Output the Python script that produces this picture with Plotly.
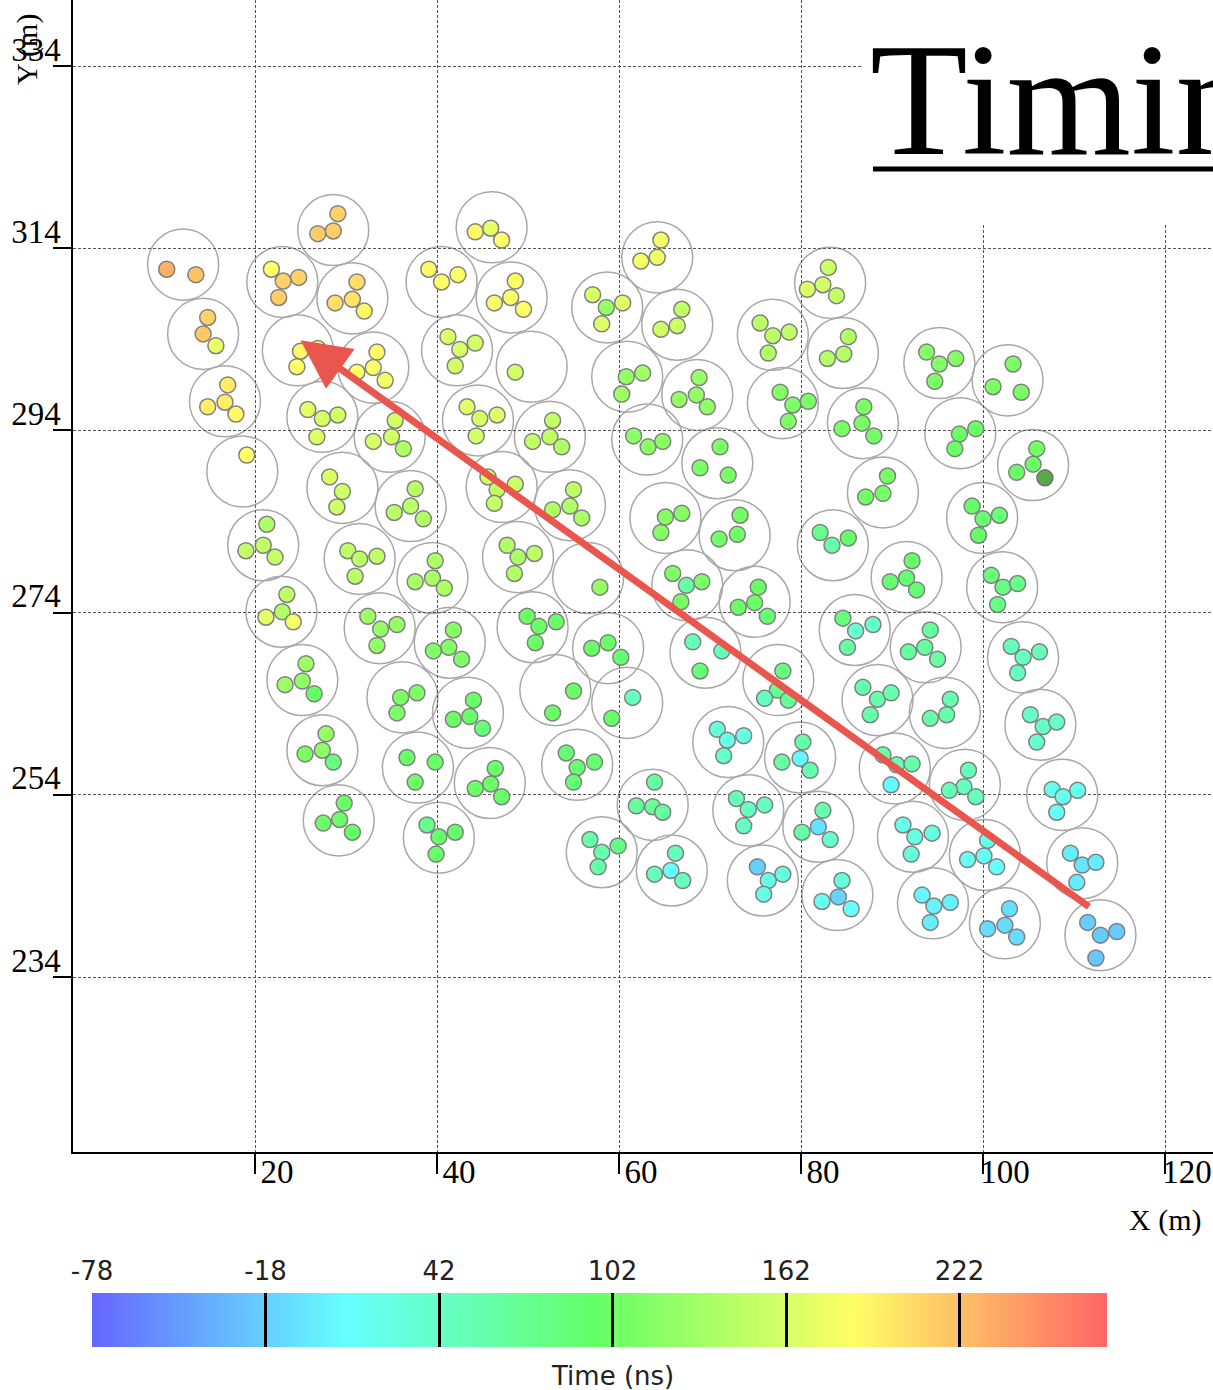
import plotly.graph_objects as go

W, H = 1213, 1390
OFF = 0  # page body margin is removed by the post_script below


def SX(px):
    return (px - OFF) / W


def SY(py):
    return 1 - (py - OFF) / H


# ---------------- data (metres / ns) ----------------
STATION_X = [12.1, 28.6, 23.0, 30.7, 40.5, 46.0, 64.2, 48.2, 58.7, 66.4,
             83.2, 76.9, 84.6, 95.2, 102.7, 14.3, 24.7, 33.0, 16.7, 42.2,
             50.4, 60.9, 68.6, 78.0, 86.8, 97.5, 105.5, 27.4, 34.8, 44.5,
             52.4, 63.1, 70.8, 18.6, 29.6, 37.1, 47.1, 54.6, 65.1, 72.7,
             89.0, 99.9, 83.5, 20.9, 31.5, 39.5, 48.9, 56.6, 67.5, 74.9,
             91.6, 102.1, 22.9, 33.7, 41.4, 50.5, 58.8, 69.5, 77.5, 85.9,
             93.7, 104.4, 25.2, 36.2, 43.4, 53.0, 60.9, 88.4, 95.8, 106.3,
             27.4, 37.9, 45.8, 55.4, 72.0, 79.9, 90.3, 98.0, 108.7, 29.2,
             40.2, 63.7, 74.2, 81.9, 92.3, 100.2, 110.9, 58.1, 65.8, 75.8,
             84.0, 94.5, 102.4, 112.9]
STATION_Y = [312.2, 316.0, 310.3, 308.5, 310.3, 316.3, 313.0, 308.6, 307.5, 305.6,
             310.2, 304.5, 302.5, 301.4, 299.5, 304.6, 302.8, 300.9, 297.2, 302.8,
             301.0, 299.9, 297.9, 297.0, 294.8, 293.7, 290.2, 295.5, 293.3, 295.1,
             293.3, 293.0, 290.4, 289.5, 287.7, 285.7, 287.8, 285.8, 284.4, 282.5,
             287.2, 284.4, 281.4, 281.4, 279.9, 277.8, 280.1, 277.8, 277.0, 275.2,
             277.9, 276.8, 274.1, 272.3, 270.7, 272.4, 270.1, 269.6, 266.6, 272.1,
             270.2, 269.1, 266.6, 264.7, 263.0, 265.5, 264.1, 264.4, 263.0, 261.7,
             258.9, 257.0, 255.3, 257.3, 259.8, 258.1, 256.9, 255.1, 254.0, 251.2,
             249.3, 252.9, 252.3, 250.5, 249.4, 247.4, 246.5, 247.7, 245.7, 244.6,
             243.0, 242.1, 239.9, 238.6]
STATION_RADIUS = 3.9

DOT_X = [10.3, 13.5,  29.1, 28.6, 26.9,  21.8, 23.1, 24.8, 22.6,  31.2, 30.7, 28.8, 32.0,
         39.1, 40.5, 42.3,  44.2, 45.9, 47.1,  64.6, 64.2, 62.4,  48.6, 48.1, 46.3, 49.5,
         57.1, 58.6, 60.4, 58.1,  66.9, 66.4, 64.6,  83.0, 82.4, 80.7, 83.9,
         75.5, 76.9, 78.7, 76.4,  85.2, 84.7, 82.9,  93.8, 95.2, 97.0, 94.7,
         103.3, 101.1, 104.2,  14.8, 14.3, 15.7,  25.0, 24.6, 26.9,  33.4, 33.0, 34.3, 31.2,
         17.0, 16.7, 14.8, 17.9,  41.2, 42.5, 44.2, 42.0,  48.6,  62.6, 60.8, 60.3,
         68.8, 68.5, 66.6, 69.7,  77.7, 79.1, 80.8, 78.6,  86.9, 86.7, 84.5, 88.0,
         99.2, 97.4, 96.9,  105.9, 105.5, 103.7,  25.8, 27.4, 29.1, 26.8,
         35.4, 35.0, 33.0, 36.3,  43.3, 44.7, 46.6, 44.3,  52.7, 52.4, 50.5, 53.7,
         61.6, 63.2, 64.8,  71.1, 68.9, 72.0,  19.1,  28.2, 29.6, 29.0,
         37.6, 37.1, 35.3, 38.5,  45.6, 46.6, 48.6, 46.3,  55.0, 54.6, 52.7, 55.9,
         65.1, 66.9, 64.6,  73.3, 73.0, 71.0,  89.5, 89.0, 87.1,  98.8, 100.0, 101.8, 99.5,
         82.1, 83.4, 85.2,  21.3, 20.9, 19.0, 22.2,  30.2, 31.5, 33.4, 31.0,
         39.8, 39.5, 37.6, 40.8,  47.7, 48.9, 50.7, 48.5,  57.9,  65.9, 67.4, 69.1, 66.8,
         75.3, 74.9, 73.1, 76.3,  92.2, 91.6, 89.8, 92.7,  100.9, 102.2, 103.8, 101.6,
         23.5, 23.0, 21.2, 24.2,  32.4, 33.8, 35.6, 33.4,  41.8, 41.3, 39.6, 42.7,
         49.9, 51.2, 53.1, 50.8,  57.0, 58.8, 60.2,  68.1, 71.3, 68.9,  78.0, 77.4, 76.0, 78.6,
         84.6, 86.0, 87.9, 85.1,  94.2, 93.6, 91.8, 95.0,  103.1, 104.4, 106.2, 103.8,
         25.6, 25.2, 23.3, 26.5,  36.0, 37.8, 35.6,  44.0, 43.6, 41.8, 45.0,  55.0, 52.7,
         61.5, 59.2,  86.8, 88.4, 89.9, 87.6,  96.4, 96.0, 94.2,  105.2, 106.6, 108.1, 105.9,
         27.8, 27.4, 25.5, 28.6,  36.7, 39.8, 37.6,  46.4, 45.9, 44.2, 47.1,
         54.2, 55.4, 57.3, 55.0,  70.8, 71.9, 73.7, 71.5,  80.2, 79.9, 77.9, 81.0,
         89.0, 90.5, 92.2, 89.9,  98.4, 97.9, 96.3, 99.2,  107.6, 108.8, 110.4, 108.1,
         29.8, 29.3, 27.5, 30.7,  38.9, 40.2, 42.0, 39.9,  63.9, 61.9, 63.7, 64.8,
         72.9, 74.2, 76.0, 73.7,  82.4, 81.9, 80.1, 83.2,  91.2, 92.5, 94.4, 92.1,
         100.5, 100.1, 98.3, 101.5,  109.6, 110.9, 112.4, 110.3,  56.8, 58.1, 59.9, 57.7,
         66.2, 65.7, 63.9, 67.0,  75.2, 76.4, 78.0, 75.9,  84.5, 84.1, 82.3, 85.5,
         93.3, 94.6, 96.4, 94.2,  102.9, 102.4, 100.5, 103.7,  111.5, 112.9, 114.7, 112.4]
DOT_Y = [311.7, 311.1,  317.8, 315.9, 315.6,  311.7, 310.4, 310.8, 308.6,  310.3, 308.4, 308.0, 307.1,
         311.7, 310.3, 311.1,  315.8, 316.2, 314.9,  314.9, 313.0, 312.6,  310.4, 308.6, 308.0, 307.3,
         308.9, 307.5, 308.0, 305.7,  307.3, 305.5, 305.1,  311.9, 310.0, 309.5, 308.8,
         305.8, 304.4, 304.8, 302.5,  304.3, 302.4, 301.9,  302.6, 301.3, 301.9, 299.4,
         301.3, 298.8, 298.2,  306.4, 304.6, 303.3,  302.7, 301.0, 303.0,  302.6, 300.9, 299.5, 300.4,
         299.0, 297.1, 296.6, 295.8,  304.3, 302.9, 303.6, 301.1,  300.4,  300.3, 299.9, 298.0,
         299.8, 297.9, 297.4, 296.6,  298.2, 296.8, 297.2, 295.0,  296.6, 294.8, 294.2, 293.4,
         294.2, 293.6, 292.0,  292.0, 290.3, 289.4,  296.3, 295.3, 295.7, 293.3,
         295.1, 293.3, 292.8, 292.0,  296.6, 295.3, 295.7, 293.4,  295.1, 293.3, 292.8, 292.2,
         293.4, 292.2, 292.8,  292.2, 289.9, 289.1,  291.3,  288.9, 287.3, 285.6,
         287.6, 285.7, 285.0, 284.3,  288.9, 287.5, 288.1, 286.0,  287.5, 285.7, 285.3, 284.4,
         284.5, 284.9, 282.8,  284.7, 282.6, 282.1,  289.0, 287.1, 286.7,  285.7, 284.3, 284.7, 282.5,
         282.8, 281.4, 282.2,  283.7, 281.4, 280.8, 280.1,  280.8, 279.9, 280.2, 278.0,
         279.7, 277.8, 277.4, 276.7,  281.4, 280.1, 280.5, 278.3,  276.8,  278.3, 277.0, 277.4, 275.2,
         276.8, 275.1, 274.6, 273.6,  279.7, 277.8, 277.4, 276.5,  278.1, 276.8, 277.2, 274.9,
         276.0, 274.1, 273.5, 273.0,  273.6, 272.2, 272.7, 270.4,  272.1, 270.2, 269.8, 268.9,
         273.6, 272.5, 273.0, 270.7,  270.1, 270.7, 269.1,  270.8, 269.8, 267.6,  267.6, 265.5, 264.6, 264.4,
         273.4, 272.0, 272.7, 270.2,  272.1, 270.2, 269.7, 268.9,  270.3, 269.1, 269.7, 267.4,
         268.4, 266.5, 266.1, 265.1,  264.7, 265.2, 263.0,  264.4, 262.6, 262.3, 261.3,  265.4, 263.0,
         264.7, 262.4,  265.8, 264.5, 265.2, 262.8,  264.5, 262.8, 262.4,  262.8, 261.5, 262.0, 259.8,
         260.7, 258.9, 258.5, 257.6,  258.1, 257.6, 255.4,  256.9, 255.2, 254.7, 253.8,
         258.6, 257.0, 257.6, 255.4,  261.2, 260.0, 260.5, 258.3,  259.8, 258.0, 257.6, 256.7,
         258.4, 257.3, 257.4, 255.1,  256.7, 254.9, 254.5, 253.8,  254.6, 253.8, 254.5, 252.1,
         253.1, 251.3, 250.9, 249.9,  250.7, 249.4, 249.9, 247.5,  255.4, 252.8, 252.7, 252.1,
         253.6, 252.4, 252.9, 250.6,  252.3, 250.5, 249.9, 249.1,  250.7, 249.4, 249.8, 247.5,
         249.0, 247.3, 246.9, 246.1,  247.6, 246.3, 246.6, 244.4,  249.1, 247.7, 248.4, 246.1,
         247.6, 245.7, 245.3, 244.6,  246.1, 244.6, 245.3, 243.1,  244.6, 242.8, 242.3, 241.5,
         243.0, 241.8, 242.2, 240.0,  241.5, 239.7, 239.3, 238.4,  240.0, 238.6, 239.0, 236.1]
DOT_T = [231, 220,  212, 214, 214,  185, 212, 212, 214,  205, 200, 205, 190,
         190, 185, 185,  190, 170, 185,  178, 176, 180,  185, 182, 180, 185,
         162, 125, 165, 165,  150, 155, 158,  155, 160, 165, 150,
         146, 146, 150, 140,  140, 142, 142,  115, 115, 115, 110,
         110, 110, 110,  212, 218, 175,  190, 185, 190,  188, 182, 178, 185,
         195, 195, 195, 188,  165, 162, 160, 158,  158,  130, 125, 130,
         125, 125, 125, 122,  115, 110, 110, 112,  110, 108, 108, 105,
         100, 100, 100,  105, 100, 100,  172, 162, 158, 165,
         160, 158, 162, 140,  168, 162, 165, 160,  150, 150, 150, 140,
         120, 118, 118,  110, 112, 108,  185,  165, 158, 158,
         146, 146, 146, 140,  160, 150, 155, 152,  148, 140, 140, 138,
         115, 115, 115,  105, 103, 103,  108, 105, 105,  98, 92, 88, 95,
         75, 60, 95,  140, 150, 150, 152,  148, 146, 150, 146,
         138, 136, 136, 138,  140, 138, 148, 140,  125,  112, 60, 110, 108,
         100, 100, 100, 90,  95, 92, 92, 90,  88, 80, 78, 78,
         148, 140, 170, 180,  130, 125, 125, 122,  115, 115, 110, 112,
         100, 100, 100, 100,  100, 100, 90,  50, 50, 85,  82, 70, 45, 70,
         85, 38, 40, 62,  65, 65, 65, 62,  50, 48, 50, 48,
         128, 122, 128, 95,  112, 112, 110,  100, 100, 100, 85,  100, 100,
         48, 95,  58, 58, 58, 58,  55, 58, 60,  40, 42, 42, 38,
         125, 120, 110, 82,  100, 98, 100,  100, 100, 100, 95,
         90, 90, 90, 90,  32, 25, 25, 40,  60, 5, 62, 55,
         58, 50, 58, 5,  50, 48, 52, 48,  20, 18, 20, 12,
         100, 100, 100, 98,  75, 95, 95, 95,  65, 65, 68, 65,
         50, 45, 48, 45,  58, -8, 58, 40,  22, 25, 28, 30,
         20, 15, 15, 12,  0, -5, -2, -2,  58, 58, 80, 58,
         50, 12, 50, 48,  -18, 25, 28, 25,  30, -15, 18, 10,
         5, 3, 3, 0,  -8, -10, -10, -10,  -18, -20, -20, -22]
# detector flagged with a different (dark) colour
FLAG_X = [106.8]
FLAG_Y = [288.8]

X_TICKS = [20, 40, 60, 80, 100, 120]
Y_TICKS = [234, 254, 274, 294, 314, 334]
CB_TICKS = [-78, -18, 42, 102, 162, 222]
CB_TICKTEXT = ["-78", "-18", "42", "102", "162", "222"]
T_MIN, T_MAX = -78, 273
ARROW_TAIL = (111.8, 241.6)
ARROW_HEAD = (25.0, 303.9)

X_RANGE = [0, 125.27]
Y_RANGE = [214.8, 341.25]

COLORSCALE = [[0.0, '#6666ff'], [0.125, '#66b3ff'], [0.25, '#66ffff'],
              [0.375, '#66ffb3'], [0.5, '#66ff66'], [0.625, '#b3ff66'],
              [0.75, '#ffff66'], [0.875, '#ffb366'], [1.0, '#ff6666']]

SERIF = 'Liberation Serif'
SANS = 'DejaVu Sans'

fig = go.Figure()

# colorbar tick-label helper axis (invisible trace)
fig.add_trace(go.Scatter(x=CB_TICKS, y=[0.5] * len(CB_TICKS), xaxis='x2', yaxis='y2',
                         mode='markers', marker=dict(opacity=0), hoverinfo='skip',
                         showlegend=False))

fig.add_trace(go.Scatter(
    x=DOT_X, y=DOT_Y, mode='markers', hoverinfo='skip', showlegend=False,
    marker=dict(symbol='circle', size=16, color=DOT_T, colorscale=COLORSCALE,
                cmin=T_MIN, cmax=T_MAX, line=dict(color='#808080', width=1.5),
                colorbar=dict(orientation='h', x=SX((92 + 1107) / 2), xanchor='center',
                              y=SY(1293), yanchor='top', len=1015, lenmode='pixels',
                              thickness=54, thicknessmode='pixels', xpad=0, ypad=0,
                              outlinewidth=0, ticks='inside', ticklen=54, tickwidth=3,
                              tickcolor='black', tickmode='array', tickvals=CB_TICKS,
                              ticktext=CB_TICKTEXT, showticklabels=True,
                              tickfont=dict(family=SANS, size=10, color='rgba(0,0,0,0)'))
                )))
fig.add_trace(go.Scatter(x=FLAG_X, y=FLAG_Y, mode='markers', hoverinfo='skip', showlegend=False,
                         marker=dict(symbol='circle', size=16, color='#5aa948',
                                     line=dict(color='#707070', width=1.5))))

shapes = []
for cx, cy in zip(STATION_X, STATION_Y):
    shapes.append(dict(type='circle', xref='x', yref='y', layer='below',
                       x0=cx - STATION_RADIUS, x1=cx + STATION_RADIUS,
                       y0=cy - STATION_RADIUS, y1=cy + STATION_RADIUS,
                       line=dict(color='#a8a8a8', width=1.5)))
# white box behind the title
shapes.append(dict(type='rect', xref='paper', yref='paper', layer='above',
                   x0=SX(862), x1=1.02, y0=SY(225), y1=1.02,
                   fillcolor='white', line=dict(width=0)))
# title underline
shapes.append(dict(type='line', xref='paper', yref='paper', layer='above',
                   x0=SX(873), x1=1.02, y0=SY(169), y1=SY(169),
                   line=dict(color='black', width=5)))

annotations = [
    dict(text='Timing', xref='paper', yref='paper', x=SX(868), y=SY(100),
         xanchor='left', yanchor='middle', showarrow=False,
         font=dict(family=SERIF, size=160, color='black')),
    dict(text='Y (m)', xref='paper', yref='paper', x=SX(27), y=SY(50),
         xanchor='center', yanchor='middle', textangle=-90, showarrow=False,
         font=dict(family=SERIF, size=30, color='black')),
    dict(text='X (m)', xref='paper', yref='paper', x=SX(1127), y=SY(1220),
         xanchor='left', yanchor='middle', showarrow=False,
         font=dict(family=SERIF, size=30, color='black')),
    dict(text='Time (ns)', xref='paper', yref='paper', x=SX(612), y=SY(1376),
         xanchor='center', yanchor='middle', showarrow=False,
         font=dict(family=SANS, size=26, color='#222')),
    dict(text='', x=ARROW_HEAD[0], y=ARROW_HEAD[1], xref='x', yref='y',
         ax=ARROW_TAIL[0], ay=ARROW_TAIL[1], axref='x', ayref='y', showarrow=True,
         arrowhead=2, arrowsize=1.4, arrowwidth=7, arrowcolor='#e8564e', standoff=0),
]

axis_common = dict(showline=True, linecolor='black', linewidth=1.5, ticks='outside',
                   tickcolor='black', tickwidth=2, showgrid=True, gridcolor='#555555',
                   gridwidth=1, griddash='3px,2px', zeroline=False,
                   tickfont=dict(family=SERIF, size=33, color='black'))

fig.update_layout(
    width=W, height=H, margin=dict(l=0, r=0, t=0, b=0, autoexpand=False),
    plot_bgcolor='white', paper_bgcolor='white', showlegend=False,
    xaxis=dict(domain=[SX(73), SX(1213)], range=X_RANGE, tickvals=X_TICKS, ticklen=20,
               ticklabelshift=22, ticklabelstandoff=-30, anchor='y', **axis_common),
    yaxis=dict(domain=[SY(1152), 1], range=Y_RANGE, tickvals=Y_TICKS, ticklen=18,
               ticklabelshift=-17, ticklabelstandoff=-14, anchor='x', **axis_common),
    xaxis2=dict(domain=[SX(92), SX(1107)], range=[T_MIN, T_MAX], anchor='y2', side='top',
                tickvals=CB_TICKS, ticktext=CB_TICKTEXT, ticks='', showgrid=False,
                showline=False, zeroline=False, ticklabelstandoff=4,
                tickfont=dict(family=SANS, size=26, color='#222')),
    yaxis2=dict(domain=[SY(1293), SY(1293) + 0.002], anchor='x2',
                visible=False, range=[0, 1]),
    shapes=shapes, annotations=annotations,
)

fig.write_html('out.html', config={'displayModeBar': False},
               post_script="document.body.style.margin='0';document.body.style.overflow='hidden';")
